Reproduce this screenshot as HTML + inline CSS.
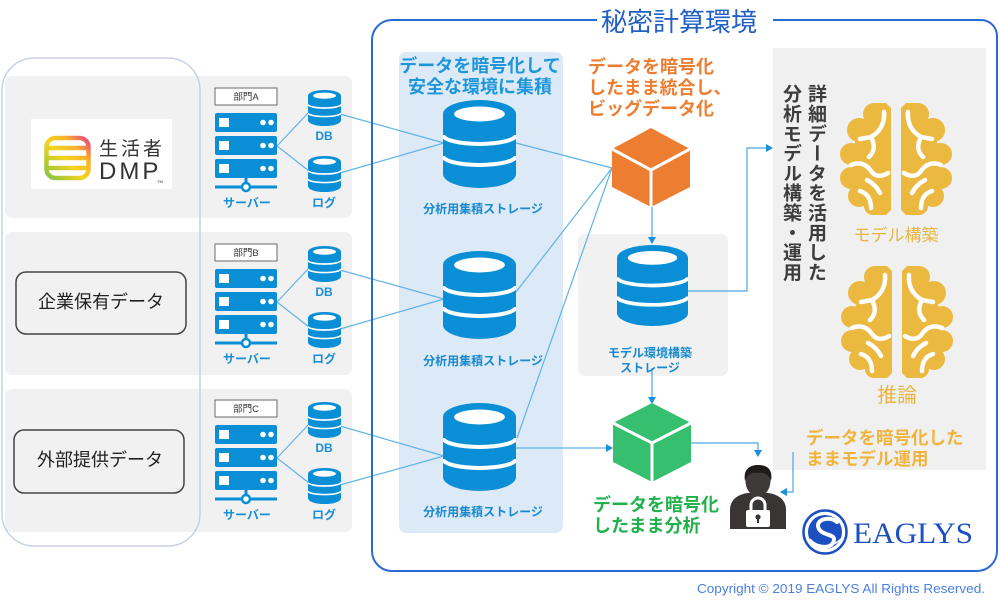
<!DOCTYPE html>
<html><head><meta charset="utf-8">
<style>
html,body{margin:0;padding:0;background:#fff;}
#wrap{position:relative;width:1000px;height:608px;overflow:hidden;background:#fff;}
svg{position:absolute;left:0;top:0;}
.vt{position:absolute;writing-mode:vertical-rl;font-family:"Noto Sans CJK JP","Liberation Sans",sans-serif;font-weight:bold;font-size:19px;line-height:25px;color:#3d3d3d;left:780px;top:84px;letter-spacing:0.8px;white-space:nowrap;}
</style></head>
<body><div id="wrap">
<svg width="1000" height="608" viewBox="0 0 1000 608" xmlns="http://www.w3.org/2000/svg" font-family="Liberation Sans, Noto Sans CJK JP, sans-serif">
<defs>
<symbol id="cyl" viewBox="0 0 72 88" preserveAspectRatio="none">
<path d="M0,14 A36,14 0 0 1 72,14 L72,74 A36,14 0 0 1 0,74 Z" fill="#0a8ed6"/>
<ellipse cx="36" cy="14" rx="25" ry="7.5" fill="#fff"/>
<path d="M0,35 A36,9 0 0 0 72,35" stroke="#fff" stroke-width="4" fill="none"/>
<path d="M0,56 A36,9 0 0 0 72,56" stroke="#fff" stroke-width="4" fill="none"/>
</symbol>
<symbol id="brain" viewBox="0 0 113 112">
<g id="hemi">
<g fill="#ebb840">
<circle cx="34" cy="11" r="11"/>
<circle cx="19" cy="27" r="12"/>
<circle cx="11" cy="51" r="11"/>
<circle cx="11" cy="75" r="11"/>
<circle cx="19" cy="93" r="11"/>
<circle cx="33" cy="103" r="9"/>
<polygon points="34,0 46,0 51,5 51,107 46,112 33,112 33,103 19,93 11,75 11,51 19,27 34,11"/>
</g>
<g stroke="#fff" stroke-width="4.5" stroke-linecap="round" fill="none">
<path d="M44,9 C45,20 40,29 31,34 L20,36"/>
<path d="M31,34 C35,42 35,48 29,54"/>
<path d="M11,62 C20,58 27,62 31,68 C35,74 42,74 48,70"/>
<path d="M27,77 C33,80 37,84 40,90"/>
<path d="M20,88 C27,90 31,96 31,105"/>
</g>
</g>
<use href="#hemi" transform="translate(112,0) scale(-1,1)"/>
</symbol>
<linearGradient id="dmpg" gradientUnits="userSpaceOnUse" x1="46" y1="180" x2="90" y2="136">
<stop offset="0" stop-color="#7cc243"/>
<stop offset="0.45" stop-color="#f6d41e"/>
<stop offset="0.7" stop-color="#f7b52a"/>
<stop offset="1" stop-color="#e6328c"/>
</linearGradient>
</defs>

<!-- left gray row panels -->
<rect x="5" y="76" width="347" height="142" rx="7" fill="#f1f1f1"/>
<rect x="5" y="232" width="347" height="143" rx="7" fill="#f1f1f1"/>
<rect x="5" y="389" width="347" height="143" rx="7" fill="#f1f1f1"/>

<!-- left outline box -->
<rect x="2" y="58" width="198" height="488" rx="32" fill="none" stroke="#c6d2e4" stroke-width="1.5"/>

<!-- DMP logo -->
<rect x="31" y="119" width="141" height="70" fill="#fff"/>
<g stroke="url(#dmpg)" stroke-width="4.5" fill="none" stroke-linecap="round">
<rect x="46.5" y="138" width="42" height="40" rx="9"/>
<line x1="48" y1="148" x2="87" y2="148"/>
<line x1="47" y1="158" x2="88" y2="158"/>
<line x1="47" y1="168" x2="88" y2="168"/>
</g>
<text x="99" y="155" font-size="19" fill="#333" letter-spacing="3" font-family="Noto Sans CJK JP, sans-serif">生活者</text>
<text x="99" y="179" font-size="24" fill="#333" letter-spacing="3">DMP</text>
<text x="157" y="183" font-size="4" fill="#333">TM</text>

<!-- left labeled boxes -->
<rect x="16" y="272" width="170" height="62" rx="10" fill="none" stroke="#444" stroke-width="1.5"/>
<text x="101" y="308" font-size="18" fill="#222" text-anchor="middle">企業保有データ</text>
<rect x="14" y="430" width="170" height="63" rx="10" fill="none" stroke="#444" stroke-width="1.5"/>
<text x="100" y="466" font-size="18" fill="#222" text-anchor="middle">外部提供データ</text>

<!-- storage panel -->
<rect x="399" y="52" width="164" height="481" rx="7" fill="#dce9f6"/>
<!-- model storage panel -->
<rect x="578" y="234" width="150" height="142" rx="7" fill="#f1f1f1"/>
<!-- right panel -->
<rect x="773" y="48" width="213" height="422" fill="#f0f0f0"/>

<!-- connector lines -->
<g stroke="#62b3e6" stroke-width="1.2" fill="none">
<line x1="277" y1="146" x2="309" y2="112"/>
<line x1="277" y1="146" x2="309" y2="171"/>
<line x1="340" y1="114" x2="444" y2="143"/>
<line x1="340" y1="173" x2="444" y2="143"/>
<line x1="277" y1="302" x2="309" y2="268"/>
<line x1="277" y1="302" x2="309" y2="327"/>
<line x1="340" y1="270" x2="444" y2="299"/>
<line x1="340" y1="329" x2="444" y2="299"/>
<line x1="277" y1="458" x2="309" y2="424"/>
<line x1="277" y1="458" x2="309" y2="483"/>
<line x1="340" y1="426" x2="444" y2="456"/>
<line x1="340" y1="485" x2="444" y2="456"/>
<line x1="516" y1="143" x2="612" y2="168"/>
<line x1="516" y1="292" x2="612" y2="168"/>
<line x1="517" y1="438" x2="612" y2="168"/>
<line x1="516" y1="448" x2="607" y2="448"/>
</g>
<g stroke="#4aa8e2" stroke-width="1.2" fill="none">
<line x1="652" y1="207" x2="652" y2="238"/>
<line x1="652" y1="368" x2="652" y2="398"/>
<polyline points="688,291 747,291 747,148 767,148"/>
<polyline points="691,443 758,443 758,451"/>
<polyline points="793,452 793,492 786,492"/>
</g>
<g fill="#1b8fdc">
<polygon points="648,237 656,237 652,244"/>
<polygon points="648,397 656,397 652,404"/>
<polygon points="766,144 766,152 773,148"/>
<polygon points="606,444 606,452 613,448"/>
<polygon points="754,450 762,450 758,457"/>
<polygon points="787,488 787,496 780,492"/>
</g>

<!-- Row 1 servers -->
<g>
<rect x="215" y="88" width="62" height="17" fill="#fff" stroke="#6a6a6a" stroke-width="1"/>
<text x="246" y="100" font-size="9.5" fill="#333" text-anchor="middle">部門A</text>
<g fill="#0a8ed6">
<rect x="215" y="113" width="62" height="19" rx="2"/>
<rect x="215" y="136" width="62" height="19" rx="2"/>
<rect x="215" y="159" width="62" height="19" rx="2"/>
</g>
<g fill="#fff">
<rect x="219" y="118" width="10" height="9"/><rect x="219" y="141" width="10" height="9"/><rect x="219" y="164" width="10" height="9"/>
<circle cx="263" cy="122.5" r="2.8"/><circle cx="271" cy="122.5" r="2.8"/>
<circle cx="263" cy="145.5" r="2.8"/><circle cx="271" cy="145.5" r="2.8"/>
<circle cx="263" cy="168.5" r="2.8"/><circle cx="271" cy="168.5" r="2.8"/>
</g>
<line x1="246" y1="178" x2="246" y2="187" stroke="#0a8ed6" stroke-width="3"/>
<line x1="215" y1="187" x2="277" y2="187" stroke="#0a8ed6" stroke-width="3"/>
<circle cx="246" cy="187" r="4" fill="#fff" stroke="#0a8ed6" stroke-width="2.5"/>
<text x="247" y="207" font-size="12" font-weight="bold" fill="#1a8fd6" text-anchor="middle">サーバー</text>
<use href="#cyl" x="308" y="90" width="33" height="36"/>
<text x="324" y="140" font-size="12" font-weight="bold" fill="#1a8fd6" text-anchor="middle">DB</text>
<use href="#cyl" x="308" y="156" width="33" height="36"/>
<text x="324" y="207" font-size="12" font-weight="bold" fill="#1a8fd6" text-anchor="middle">ログ</text>
</g>
<!-- Row 2 -->
<g transform="translate(0,156)">
<rect x="215" y="88" width="62" height="17" fill="#fff" stroke="#6a6a6a" stroke-width="1"/>
<text x="246" y="100" font-size="9.5" fill="#333" text-anchor="middle">部門B</text>
<g fill="#0a8ed6">
<rect x="215" y="113" width="62" height="19" rx="2"/>
<rect x="215" y="136" width="62" height="19" rx="2"/>
<rect x="215" y="159" width="62" height="19" rx="2"/>
</g>
<g fill="#fff">
<rect x="219" y="118" width="10" height="9"/><rect x="219" y="141" width="10" height="9"/><rect x="219" y="164" width="10" height="9"/>
<circle cx="263" cy="122.5" r="2.8"/><circle cx="271" cy="122.5" r="2.8"/>
<circle cx="263" cy="145.5" r="2.8"/><circle cx="271" cy="145.5" r="2.8"/>
<circle cx="263" cy="168.5" r="2.8"/><circle cx="271" cy="168.5" r="2.8"/>
</g>
<line x1="246" y1="178" x2="246" y2="187" stroke="#0a8ed6" stroke-width="3"/>
<line x1="215" y1="187" x2="277" y2="187" stroke="#0a8ed6" stroke-width="3"/>
<circle cx="246" cy="187" r="4" fill="#fff" stroke="#0a8ed6" stroke-width="2.5"/>
<text x="247" y="207" font-size="12" font-weight="bold" fill="#1a8fd6" text-anchor="middle">サーバー</text>
<use href="#cyl" x="308" y="90" width="33" height="36"/>
<text x="324" y="140" font-size="12" font-weight="bold" fill="#1a8fd6" text-anchor="middle">DB</text>
<use href="#cyl" x="308" y="156" width="33" height="36"/>
<text x="324" y="207" font-size="12" font-weight="bold" fill="#1a8fd6" text-anchor="middle">ログ</text>
</g>
<!-- Row 3 -->
<g transform="translate(0,312)">
<rect x="215" y="88" width="62" height="17" fill="#fff" stroke="#6a6a6a" stroke-width="1"/>
<text x="246" y="100" font-size="9.5" fill="#333" text-anchor="middle">部門C</text>
<g fill="#0a8ed6">
<rect x="215" y="113" width="62" height="19" rx="2"/>
<rect x="215" y="136" width="62" height="19" rx="2"/>
<rect x="215" y="159" width="62" height="19" rx="2"/>
</g>
<g fill="#fff">
<rect x="219" y="118" width="10" height="9"/><rect x="219" y="141" width="10" height="9"/><rect x="219" y="164" width="10" height="9"/>
<circle cx="263" cy="122.5" r="2.8"/><circle cx="271" cy="122.5" r="2.8"/>
<circle cx="263" cy="145.5" r="2.8"/><circle cx="271" cy="145.5" r="2.8"/>
<circle cx="263" cy="168.5" r="2.8"/><circle cx="271" cy="168.5" r="2.8"/>
</g>
<line x1="246" y1="178" x2="246" y2="187" stroke="#0a8ed6" stroke-width="3"/>
<line x1="215" y1="187" x2="277" y2="187" stroke="#0a8ed6" stroke-width="3"/>
<circle cx="246" cy="187" r="4" fill="#fff" stroke="#0a8ed6" stroke-width="2.5"/>
<text x="247" y="207" font-size="12" font-weight="bold" fill="#1a8fd6" text-anchor="middle">サーバー</text>
<use href="#cyl" x="308" y="90" width="33" height="36"/>
<text x="324" y="140" font-size="12" font-weight="bold" fill="#1a8fd6" text-anchor="middle">DB</text>
<use href="#cyl" x="308" y="156" width="33" height="36"/>
<text x="324" y="207" font-size="12" font-weight="bold" fill="#1a8fd6" text-anchor="middle">ログ</text>
</g>

<!-- storage heading -->
<g font-size="18" font-weight="bold" fill="#1e96dc" text-anchor="middle">
<text x="480" y="72">データを暗号化して</text>
<text x="480" y="93">安全な環境に集積</text>
</g>
<use href="#cyl" x="443" y="100" width="73" height="88"/>
<use href="#cyl" x="443" y="251" width="73" height="88"/>
<use href="#cyl" x="443" y="403" width="73" height="88"/>
<g font-size="12" font-weight="bold" fill="#1a8ad0" text-anchor="middle">
<text x="483" y="213">分析用集積ストレージ</text>
<text x="483" y="365">分析用集積ストレージ</text>
<text x="483" y="516">分析用集積ストレージ</text>
</g>

<!-- orange text & cube -->
<g font-size="18" font-weight="bold" fill="#ed7d31">
<text x="588" y="73">データを暗号化</text>
<text x="588" y="94">したまま統合し、</text>
<text x="588" y="115">ビッグデータ化</text>
</g>
<polygon points="651,128 690,149 690,187 651,207 612,187 612,149" fill="#ed7d31"/>
<polyline points="612,149 651,170 690,149" stroke="#fff" stroke-width="3" fill="none"/>
<line x1="651" y1="170" x2="651" y2="207" stroke="#fff" stroke-width="3"/>

<!-- model storage -->
<use href="#cyl" x="617" y="245" width="71" height="81"/>
<g font-size="12" font-weight="bold" fill="#1a8ad0" text-anchor="middle">
<text x="650" y="357">モデル環境構築</text>
<text x="650" y="372">ストレージ</text>
</g>

<!-- green cube & text -->
<polygon points="652,403 691,423 691,462 652,482 613,462 613,423" fill="#35bf6e"/>
<polyline points="613,423 652,443 691,423" stroke="#fff" stroke-width="3" fill="none"/>
<line x1="652" y1="443" x2="652" y2="482" stroke="#fff" stroke-width="3"/>
<g font-size="18" font-weight="bold" fill="#22b14c">
<text x="593" y="511">データを暗号化</text>
<text x="593" y="532">したまま分析</text>
</g>

<!-- brains -->
<use href="#brain" x="840" y="103" width="113" height="112"/>
<text x="896" y="241" font-size="17" fill="#e9b540" text-anchor="middle">モデル構築</text>
<use href="#brain" x="841" y="266" width="113" height="112"/>
<text x="897" y="402" font-size="20" fill="#e9b540" text-anchor="middle">推論</text>

<!-- yellow text -->
<g font-size="17.5" font-weight="bold" fill="#f0b43c">
<text x="806" y="444">データを暗号化した</text>
<text x="806" y="465">ままモデル運用</text>
</g>

<!-- person -->
<path d="M730,529 L730,510 C730,499 739,494 748,493 L768,493 C777,494 786,499 786,510 L786,529 Z" fill="#3a3535"/>
<ellipse cx="758" cy="481" rx="12.5" ry="15.5" fill="#3f3a3a"/>
<path d="M745,481 C743,469 750,465 758,465 C767,465 773,469 771,481 C769,475 765,472 758,473 C751,472 747,475 745,481Z" fill="#1e1b1b"/>
<path d="M751,511 V505 A7,7 0 0 1 765,505 V511" stroke="#fff" stroke-width="3" fill="none"/>
<rect x="746" y="510" width="24" height="17" rx="2" fill="#fff"/>
<circle cx="758" cy="517" r="2.6" fill="#3a3535"/>
<rect x="757" y="517" width="2" height="6" fill="#3a3535"/>

<!-- EAGLYS logo -->
<circle cx="825" cy="532" r="21.5" fill="none" stroke="#1b4fc2" stroke-width="2.5"/>
<circle cx="825" cy="532" r="17" fill="#1b4fc2"/>
<path d="M837,522 C829,515 814,520 819,529 C824,537 838,533 833,543 C829,549 818,548 811,543" stroke="#fff" stroke-width="4" fill="none" stroke-linecap="round"/>
<path d="M810,539 C816,547 832,549 842,538" stroke="#fff" stroke-width="1.5" fill="none"/>
<text x="853" y="543" font-size="30" fill="#1b4fc2" font-family="Liberation Serif, serif" textLength="120" lengthAdjust="spacingAndGlyphs">EAGLYS</text>

<!-- main container border -->
<path d="M597,20 H392 A20,20 0 0 0 372,40 V551 A20,20 0 0 0 392,571 H977 A20,20 0 0 0 997,551 V36 A16,16 0 0 0 981,20 H773" stroke="#2a6ad4" stroke-width="2" fill="none"/>
<text x="601" y="31" font-size="26" fill="#1f5fc6" font-family="Noto Sans CJK JP, sans-serif">秘密計算環境</text>

<!-- copyright -->
<text x="697" y="593" font-size="13" fill="#4a7fe0" textLength="288" lengthAdjust="spacingAndGlyphs">Copyright © 2019 EAGLYS All Rights Reserved.</text>
</svg>
<div class="vt">詳細データを活用した<br>分析モデル構築・運用</div>
</div></body></html>
